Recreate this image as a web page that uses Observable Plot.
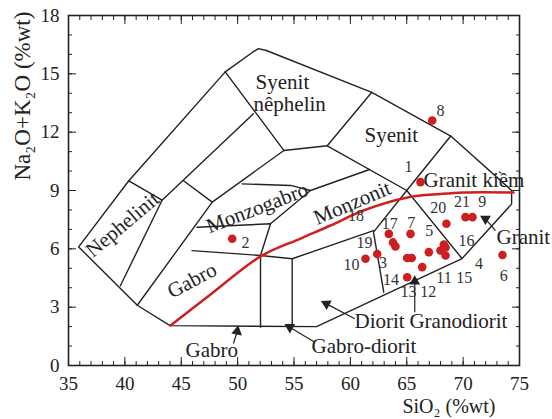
<!DOCTYPE html>
<html><head><meta charset="utf-8">
<script src="https://cdn.jsdelivr.net/npm/d3@7"></script>
<script src="https://cdn.jsdelivr.net/npm/@observablehq/plot@0.6"></script>
<style>body{margin:0;background:#fff}</style>
</head><body><div id="chart"></div>
<script>
// ---- classification diagram boundaries (SiO2, Na2O+K2O) ----
const outline = [[35.9,6.1],[40.35,9.5],[48.9,15.1],[51.3,16.1],[51.85,16.3],[52.55,16.2],[61.9,14.05],[68.9,11.8],[74.3,9.0],[74.3,8.3],[69.9,5.5],[57.0,2.0],[44.0,2.05],[41.1,3.1],[35.9,6.1]];
const nephelinitBox = [[40.35,9.5],[43.3,8.5],[39.6,4.1]];
const diagonal2 = [[43.3,8.5],[51.4,12.95]];
const syenitNephLeft = [[48.9,15.1],[54.1,11.06]];
const diagonal3 = [[41.1,3.1],[47.75,8.4],[54.1,11.06]];
const shortLink = [[45.2,9.5],[47.75,8.4]];
const syenitNephBottom = [[54.1,11.06],[57.95,11.3],[61.9,14.05]];
const syenitBottom = [[57.95,11.3],[65.0,9.0]];
const graniteLine = [[68.9,11.8],[65.0,9.0],[62.05,6.86],[62.96,3.77]];
const granodioriteRight = [[65.0,9.0],[69.9,5.5]];
const monzoTop = [[50.4,9.34],[54.7,9.26],[56.46,9.0],[61.7,10.08]];
const monzoDivide = [[56.46,9.0],[52.92,7.29]];
const monzogabbroBox = [[46.39,7.11],[52.92,7.29],[52.03,5.66]];
const gabbroTop = [[45.95,5.91],[52.03,5.66],[54.84,5.49],[62.05,6.94]];
const gabbroRight = [[52.03,5.66],[52.03,1.97]];
const gabbroDioriteRight = [[54.84,5.49],[54.84,1.97]];

// ---- alkaline / subalkaline divide (red) ----
const alkSiO2 = [44.05,47.6,52.03,55.58,58.24,61.16,65.07,68.0,70.03,74.47];
const alkTotal = [2.06,3.65,5.61,6.53,7.2,7.97,8.64,8.82,8.9,8.9];

// ---- samples ----
const sampleSiO2 = [66.22,49.52,67.26,68.52,70.21,70.83,73.49,61.34,62.38,63.41,65.33,63.78,64.0,65.04,65.44,66.96,67.99,68.44,68.44,68.29,66.37,65.04];
const sampleAlk  = [9.43,6.52,12.6,7.29,7.63,7.63,5.68,5.49,5.73,6.77,6.77,6.33,6.12,5.53,5.53,5.83,5.91,6.07,5.66,6.22,5.06,4.54];

// ---- sample number labels ----
const numText = ["8","1","2","20","21","9","18","17","7","5","16","19","10","3","14","13","12","11","15","4","6"];
const numX = [68.0,65.15,50.7,67.8,69.9,71.7,60.5,63.5,65.4,67.0,70.3,61.25,60.1,62.9,63.6,65.15,66.9,68.3,70.1,71.4,73.6];
const numY = [13.1,10.2,6.33,8.1,8.4,8.4,7.7,7.3,7.35,6.9,6.4,6.3,5.15,5.3,4.4,3.8,3.8,4.5,4.5,5.25,4.6];

// ---- field names ----
const fieldText = ["Syenit","nêphelin","Syenit","Granit kiềm","Granit","Gabro","Gabro-diorit","Diorit","Granodiorit"];
const fieldX = [51.59,51.41,61.25,66.49,72.96,45.38,56.55,60.37,65.24];
const fieldY = [14.56,13.42,11.83,9.51,6.61,0.8,1.0,2.29,2.29];
const rotText = ["Gabro","Nephelinit","Monzogabro","Monzonit"];
const rotX = [45.95,39.79,51.73,60.16];
const rotY = [4.37,7.25,8.1,8.36];
const rotAngle = [-28,-40,-21,-23];

// ---- pointer arrows ----
const ptrFromX = [49.63,56.84,60.39,65.71,72.87];
const ptrFromY = [1.13,1.2,2.4,2.74,6.94];
const ptrToX = [49.96,54.63,57.88,65.71,71.98];
const ptrToY = [1.75,1.97,3.17,4.32,7.54];
const ptrRotate = [10,180,-62,0,180];

const tickMajorX = [35,40,45,50,55,60,65,70,75];
const tickMajorY = [0,3,6,9,12,15,18];
const tickMinorX = d3.range(35,76,1);
const tickMinorY = d3.range(0,19,1);

const polylines = [outline,nephelinitBox,diagonal2,syenitNephLeft,diagonal3,shortLink,syenitNephBottom,syenitBottom,graniteLine,granodioriteRight,monzoTop,monzoDivide,monzogabbroBox,gabbroTop,gabbroRight,gabbroDioriteRight];
const lineRows = polylines.flatMap((pl,i)=>pl.map(([x,y])=>({x,y,id:i})));
const alkRows = alkSiO2.map((x,i)=>({x,y:alkTotal[i]}));
const samples = sampleSiO2.map((x,i)=>({x,y:sampleAlk[i]}));
const nums = numText.map((t,i)=>({t,x:numX[i],y:numY[i]}));
const fields = fieldText.map((t,i)=>({t,x:fieldX[i],y:fieldY[i]}));
const rots = rotText.map((t,i)=>({t,x:rotX[i],y:rotY[i],a:rotAngle[i]}));
const ptrs = ptrFromX.map((x,i)=>({x1:x,y1:ptrFromY[i],x2:ptrToX[i],y2:ptrToY[i],r:ptrRotate[i]}));

const ink = "#222";
const serif = "'Liberation Serif','Times New Roman',serif";
const blank = () => "";
const chart = Plot.plot({
  width: 552, height: 419,
  marginLeft: 68, marginRight: 33, marginTop: 15, marginBottom: 54,
  x: {domain:[35,75]}, y: {domain:[0,18]},
  style: {fontFamily:serif, fontSize:"19px", color:ink, background:"#fff", overflow:"visible"},
  marks: [
    Plot.line(lineRows, {x:"x", y:"y", z:"id", stroke:ink, strokeWidth:1.4}),
    Plot.line(alkRows, {x:"x", y:"y", stroke:"#d11f1f", strokeWidth:2.5, curve:"catmull-rom"}),
    Plot.link(ptrs, {x1:"x1", y1:"y1", x2:"x2", y2:"y2", stroke:ink, strokeWidth:1.2}),
    Plot.dot(ptrs, {x:"x2", y:"y2", symbol:"triangle", r:4, fill:ink, rotate:"r"}),
    Plot.dot(samples, {x:"x", y:"y", r:4.3, fill:"#cc1f1f"}),
    Plot.text(nums, {x:"x", y:"y", text:"t", fontSize:16, fill:"#333", fontFamily:serif}),
    Plot.text(fields, {x:"x", y:"y", text:"t", textAnchor:"start", fontSize:21, fontFamily:serif}),
    Plot.text(rots, {x:"x", y:"y", text:"t", rotate:"a", fontSize:21, fontFamily:serif}),
    Plot.frame({stroke:ink, strokeWidth:1.6}),
    Plot.axisX({anchor:"bottom", ticks:tickMinorX, tickSize:-4, tickFormat:blank, label:null}),
    Plot.axisX({anchor:"bottom", ticks:tickMajorX, tickSize:-8, tickFormat:blank, label:null}),
    Plot.axisX({anchor:"bottom", ticks:tickMajorX, tickSize:0, tickPadding:11, label:null, fontSize:19, fontFamily:serif}),
    Plot.axisX({anchor:"top", ticks:tickMinorX, tickSize:-4, tickFormat:blank, label:null}),
    Plot.axisX({anchor:"top", ticks:tickMajorX, tickSize:-8, tickFormat:blank, label:null}),
    Plot.axisY({anchor:"left", ticks:tickMinorY, tickSize:-4, tickFormat:blank, label:null}),
    Plot.axisY({anchor:"left", ticks:tickMajorY, tickSize:-8, tickFormat:blank, label:null}),
    Plot.axisY({anchor:"left", ticks:tickMajorY, tickSize:0, tickPadding:9, label:null, fontSize:19, fontFamily:serif}),
    Plot.axisY({anchor:"right", ticks:tickMinorY, tickSize:-4, tickFormat:blank, label:null}),
    Plot.axisY({anchor:"right", ticks:tickMajorY, tickSize:-8, tickFormat:blank, label:null}),
    Plot.text(["Na₂O+K₂O (%wt)"], {frameAnchor:"left", dx:-46, dy:-10, rotate:-90, fontSize:23, fontFamily:serif}),
    Plot.text(["SiO₂ (%wt)"], {frameAnchor:"bottom-right", dx:-24, dy:47, textAnchor:"end", fontSize:20, fontFamily:serif})
  ]
});
document.getElementById("chart").append(chart);
</script>
</body></html>
